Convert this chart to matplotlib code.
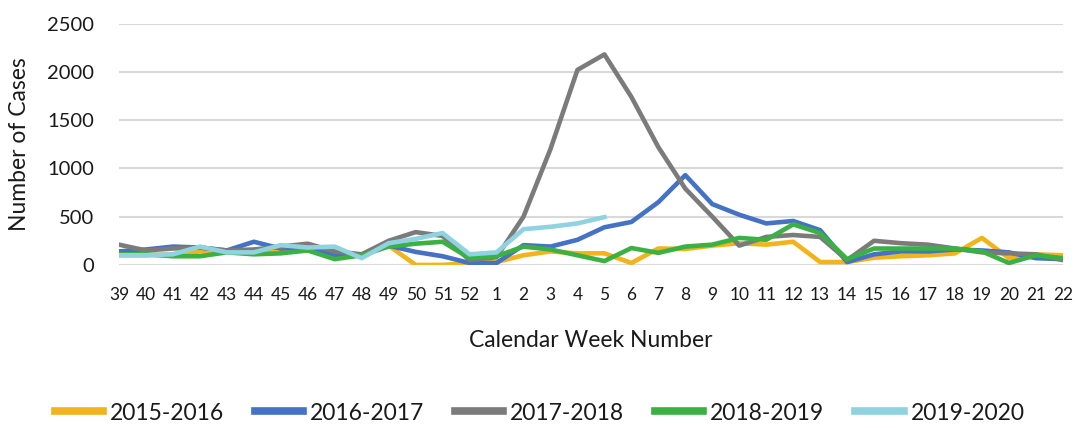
import matplotlib.pyplot as plt
import numpy as np

plt.rcParams['font.family'] = ['Lato', 'DejaVu Sans']

# Settimane del calendario (da 39 a 52, poi da 1 a 22)
weeks = [str(w) for w in list(range(39, 53)) + list(range(1, 23))]

# Numero di casi per stagione
s2015_2016 = [100, 100, 110, 140, 140, 120, 150, 150, 100, 100, 200, 0, 0, 20, 30, 100, 140, 120,
              120, 20, 170, 165, 200, 225, 210, 240, 30, 30, 75, 90, 100, 120, 280, 70, 110, 100]
s2016_2017 = [140, 160, 190, 180, 150, 240, 170, 180, 100, 110, 200, 135, 90, 20, 20, 205, 190, 260,
              390, 445, 650, 930, 630, 520, 430, 455, 360, 30, 110, 140, 140, 160, 150, 130, 70, 60]
s2017_2018 = [210, 150, 170, 180, 150, 160, 190, 220, 140, 110, 250, 340, 300, 50, 80, 500, 1200, 2020,
              2180, 1740, 1220, 790, 500, 200, 290, 310, 290, 50, 250, 225, 210, 170, 130, 120, 110, 50]
s2018_2019 = [110, 110, 90, 90, 130, 110, 120, 150, 60, 100, 190, 220, 240, 70, 90, 190, 160, 100,
              40, 175, 125, 190, 210, 280, 260, 420, 330, 60, 170, 170, 170, 170, 140, 20, 100, 70]
s2019_2020 = [100, 100, 110, 190, 130, 130, 205, 180, 190, 70, 225, 270, 330, 110, 130, 370, 395, 430,
              495]

series = [
    ("2015-2016", s2015_2016, "#F2B31C"),
    ("2016-2017", s2016_2017, "#4472C4"),
    ("2017-2018", s2017_2018, "#7B7B7B"),
    ("2018-2019", s2018_2019, "#3BB143"),
    ("2019-2020", s2019_2020, "#8FD3E0"),
]

txt = '#1A1A1A'

fig = plt.figure(figsize=(10.75, 4.28), dpi=100)
ax = fig.add_axes([0.1107, 0.381, 0.878, 0.564])

x = np.arange(len(weeks))
for label, vals, color in series:
    ax.plot(x[:len(vals)], vals, color=color, lw=3.3, label=label)

ax.set_xlim(0, len(weeks) - 1)
ax.set_ylim(0, 2500)
ax.set_yticks(range(0, 2501, 500))
ax.set_xticks(x, weeks)
ax.grid(axis='y', color='#D9D9D9', lw=1.5)
ax.set_axisbelow(True)
for s in ax.spines.values():
    s.set_visible(False)
ax.tick_params(axis='x', length=0, pad=16, labelsize=12.5, labelcolor=txt)
ax.tick_params(axis='y', length=0, pad=18, labelsize=14.5, labelcolor=txt)
ax.set_xlabel("Calendar Week Number", fontsize=16.5, color=txt, labelpad=19)
ax.set_ylabel("Number of Cases", fontsize=16.5, color=txt, labelpad=12)

leg = fig.legend(loc='center', bbox_to_anchor=(0.502, 0.035), ncol=5, frameon=False,
                 fontsize=16.5, handlelength=2.1, columnspacing=1.35, handletextpad=0.3,
                 labelcolor=txt)
for h in leg.get_lines():
    h.set_linewidth(5.5)

fig.savefig("out.png", dpi=100)
